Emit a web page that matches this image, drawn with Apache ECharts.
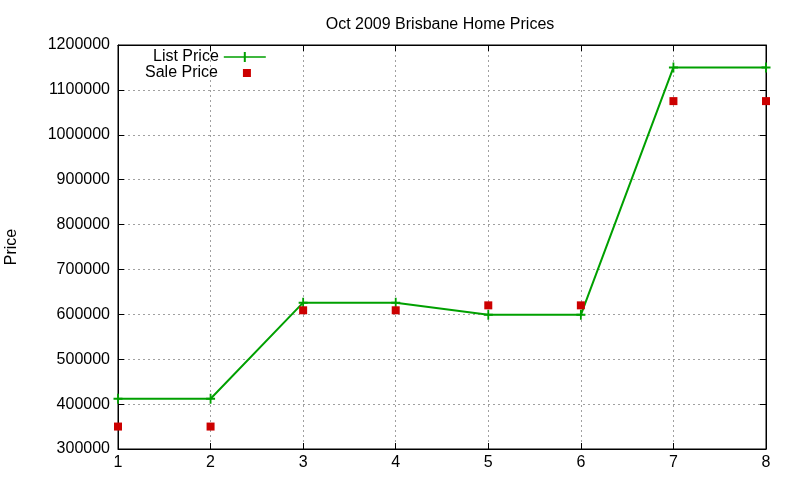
<!DOCTYPE html>
<html>
<head>
<meta charset="utf-8">
<script src="https://cdn.jsdelivr.net/npm/echarts@6/dist/echarts.min.js"></script>
<style>
    html, body { margin: 0; padding: 0; background: #fff; }
    #chart { width: 800px; height: 480px; }
</style>
</head>
<body>
<div id="chart"></div>
<script>
// values
var xs = [1, 2, 3, 4, 5, 6, 7, 8];
var listPrice = [412000, 412000, 626000, 626000, 599000, 599000, 1150000, 1150000];
var salePrice = [350000, 350000, 609000, 609000, 620000, 620000, 1075000, 1075000];
var titleText = 'Oct 2009 Brisbane Home Prices';

var pairs = function(vals) {
    var out = [];
    for (var i = 0; i < xs.length; i++) {
        out.push([xs[i], vals[i]]);
    }
    return out;
};

var font = 'Liberation Sans, Arial, sans-serif';
var plus = 'path://M4,0H6V4H10V6H6V10H4V6H0V4H4Z';
var gridLine = { show: true, lineStyle: { color: '#a0a0a0', type: [2, 3], width: 1 } };

var chart = echarts.init(document.getElementById('chart'));
var option = {
    backgroundColor: '#fff',
    animation: false,
    title: {
        text: titleText,
        left: 435,
        textAlign: 'center',
        top: 12,
        textStyle: { fontFamily: font, fontSize: 16, fontWeight: 'normal', color: '#000' }
    },
    legend: [{
        data: [{ name: 'List Price', icon: 'path://M0,4.3H42V5.7H0Z M20,0H22V10H20Z' }],
        left: 148,
        top: 44,
        align: 'right',
        itemWidth: 42,
        itemHeight: 10,
        textStyle: { fontFamily: font, fontSize: 16, color: '#000' }
    }, {
        data: [{ name: 'Sale Price', icon: 'rect' }],
        left: 140,
        top: 60,
        align: 'right',
        itemWidth: 8,
        itemHeight: 8,
        textStyle: { fontFamily: font, fontSize: 16, color: '#000', padding: [0, 20, 0, 0] }
    }],
    grid: {
        left: 118, right: 34, top: 45, bottom: 31,
        outerBoundsMode: 'none',
        show: true, borderColor: '#000', borderWidth: 1
    },
    xAxis: [{
        type: 'value',
        min: 1, max: 8, interval: 1,
        axisLine: { show: true, lineStyle: { color: '#000' } },
        axisTick: { inside: true, length: 6, lineStyle: { color: '#000' } },
        axisLabel: { fontFamily: font, fontSize: 16, color: '#000', margin: 6 },
        splitLine: gridLine
    }, {
        type: 'value', position: 'top',
        min: 1, max: 8, interval: 1,
        axisLine: { show: true, lineStyle: { color: '#000' } },
        axisTick: { inside: true, length: 6, lineStyle: { color: '#000' } },
        axisLabel: { show: false },
        splitLine: { show: false }
    }],
    yAxis: [{
        type: 'value',
        min: 300000, max: 1200000, interval: 100000,
        name: 'Price',
        nameLocation: 'middle',
        nameGap: 98,
        nameTextStyle: { fontFamily: font, fontSize: 16, color: '#000' },
        axisLine: { show: true, lineStyle: { color: '#000' } },
        axisTick: { inside: true, length: 6, lineStyle: { color: '#000' } },
        axisLabel: {
            fontFamily: font, fontSize: 16, color: '#000', margin: 8,
            formatter: function(v) { return String(v); }
        },
        splitLine: gridLine
    }, {
        type: 'value', position: 'right',
        min: 300000, max: 1200000, interval: 100000,
        axisLine: { show: true, lineStyle: { color: '#000' } },
        axisTick: { inside: true, length: 6, lineStyle: { color: '#000' } },
        axisLabel: { show: false },
        splitLine: { show: false }
    }],
    series: [{
        name: 'List Price',
        type: 'line',
        data: pairs(listPrice),
        color: '#00a000',
        lineStyle: { width: 2, color: '#00a000' },
        symbol: plus,
        symbolSize: [9, 10],
        itemStyle: { color: '#00a000' },
        z: 3
    }, {
        name: 'Sale Price',
        type: 'scatter',
        data: pairs(salePrice),
        color: '#cc0000',
        symbol: 'rect',
        symbolSize: 8,
        itemStyle: { color: '#cc0000', opacity: 1 },
        z: 4
    }]
};
chart.setOption(option);
</script>
</body>
</html>
